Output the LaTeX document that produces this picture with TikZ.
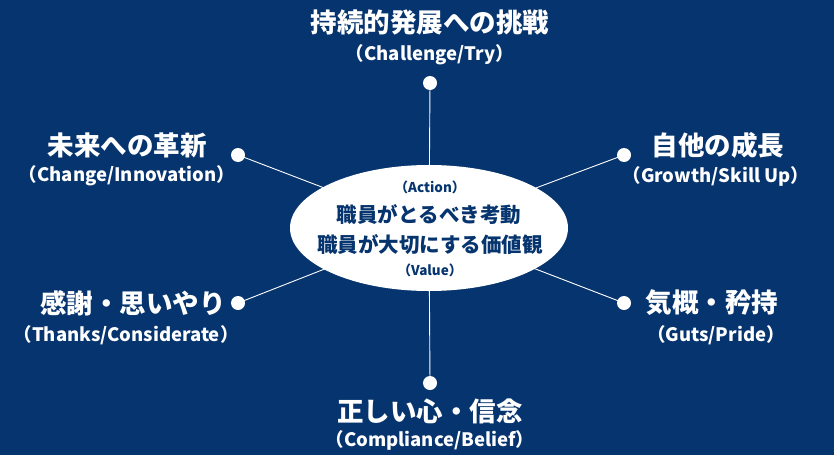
\documentclass[tikz,border=0pt]{standalone}
\usepackage{fontspec}
\newfontfamily\jp{Noto Sans CJK JP}
\usetikzlibrary{shapes.geometric}
\definecolor{navy}{RGB}{6,52,110}
\tikzset{
  dot/.style={circle,fill=white,minimum size=14pt,inner sep=0pt},
  spoke/.style={draw=white,line width=0.9pt},
  title/.style={text=white,font=\jp\bfseries\fontsize{26.5}{26.5}\selectfont,inner sep=0pt},
  sub/.style={text=white,font=\jp\bfseries\fontsize{18.5}{18.5}\selectfont,inner sep=0pt},
  intitle/.style={text=navy,font=\jp\bfseries\fontsize{20.5}{20.5}\selectfont,inner sep=0pt},
  insub/.style={text=navy,font=\jp\bfseries\fontsize{13.5}{13.5}\selectfont,inner sep=0pt},
}
\begin{document}
\begin{tikzpicture}[x=1pt,y=-1pt]
\fill[navy] (0,0) rectangle (834,455);
\useasboundingbox (0,0) rectangle (834,455);
\node[ellipse,minimum width=278pt,minimum height=126pt,inner sep=0pt] (ell) at (429,228) {};
\node[dot] (dT) at (430,83) {};
\node[dot] (dB) at (430,383) {};
\node[dot] (dUL) at (238,155) {};
\node[dot] (dUR) at (624,155) {};
\node[dot] (dLL) at (238,303) {};
\node[dot] (dLR) at (624,303) {};
\foreach \d in {dT,dB,dUL,dUR,dLL,dLR} \draw[spoke] (\d.center) -- (ell.center);
\fill[white] (429,228) ellipse (139 and 63);
\node[insub] (a1) at (430,187) {（Action）};
\node[intitle] (a2) at (429,215) {職員がとるべき考動};
\node[intitle] (a3) at (430,245) {職員が大切にする価値観};
\node[insub] (a4) at (430,270) {（Value）};
\node[title] (tT) at (430,22) {持続的発展への挑戦};
\node[sub] (sT) at (430,55) {（Challenge/Try）};
\node[title] (tUL) at (127,145) {未来への革新};
\node[sub] (sUL) at (127,176) {（Change/Innovation）};
\node[title] (tUR) at (718,145) {自他の成長};
\node[sub] (sUR) at (716,176) {（Growth/Skill Up）};
\node[title] (tLL) at (133,303) {感謝・思いやり};
\node[sub] (sLL) at (126,335) {（Thanks/Considerate）};
\node[title] (tLR) at (712,303) {気概・矜持};
\node[sub] (sLR) at (716,335) {（Guts/Pride）};
\node[title] (tB) at (430,411) {正しい心・信念};
\node[sub] (sB) at (430,440) {（Compliance/Belief）};
\end{tikzpicture}
\end{document}
